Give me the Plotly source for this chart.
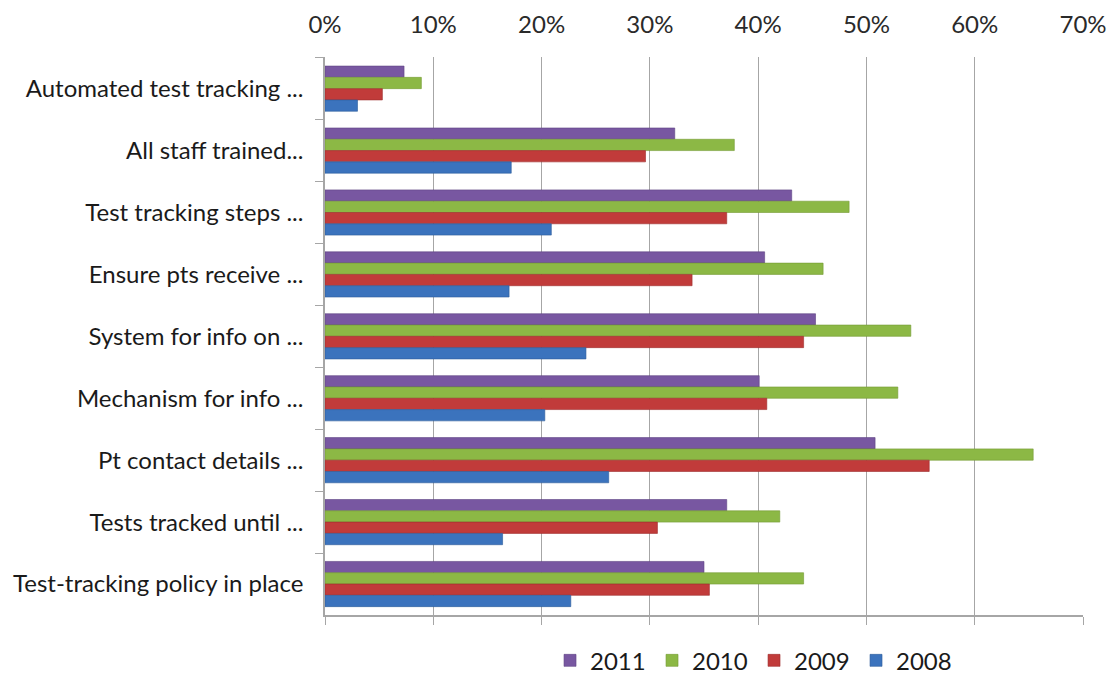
import plotly.graph_objects as go

categories = [
    "Automated test tracking ...",
    "All staff trained...",
    "Test tracking steps ...",
    "Ensure pts receive ...",
    "System for info on ...",
    "Mechanism for info ...",
    "Pt contact details ...",
    "Tests tracked until ...",
    "Test-tracking policy in place",
]
years = ["2011", "2010", "2009", "2008"]
v2011 = [7.3, 32.3, 43.1, 40.6, 45.3, 40.1, 50.8, 37.1, 35.0]
v2010 = [8.9, 37.8, 48.4, 46.0, 54.1, 52.9, 65.4, 42.0, 44.2]
v2009 = [5.3, 29.6, 37.1, 33.9, 44.2, 40.8, 55.8, 30.7, 35.5]
v2008 = [3.0, 17.2, 20.9, 17.0, 24.1, 20.3, 26.2, 16.4, 22.7]
series = [v2011, v2010, v2009, v2008]
colors = ["#7857A1", "#8CB845", "#C13B3A", "#3B73BD"]
edge = ["#5E4383", "#739A33", "#9E2E2D", "#2E5C9A"]
xticks = [0, 10, 20, 30, 40, 50, 60, 70]

FONT = "Lato"
FS = 24

fig = go.Figure()
for name, vals, c, e in zip(years, series, colors, edge):
    fig.add_trace(go.Bar(
        name=name, y=categories, x=vals, orientation="h",
        marker=dict(color=c, line=dict(color=e, width=0.6)),
    ))

# helper trace for bottom axis line with ticks
fig.add_trace(go.Scatter(x=[0], y=[categories[0]], xaxis="x2", mode="markers",
                         marker=dict(opacity=0), showlegend=False, hoverinfo="skip"))

fig.update_layout(
    width=1117, height=677,
    margin=dict(l=325, r=34, t=57, b=62, autoexpand=False),
    paper_bgcolor="white", plot_bgcolor="white",
    barmode="group", bargap=0.27, bargroupgap=0,
    font=dict(family=FONT, size=FS, color="#1A1A1A"),
    xaxis=dict(
        side="top", range=[0, 70], tickvals=xticks,
        ticktext=[f"{t}%" for t in xticks],
        showgrid=True, gridcolor="#A6A6A6", gridwidth=1,
        zeroline=False, showline=False, ticks="",
        ticklabelstandoff=18,
        tickfont=dict(family=FONT, size=FS, color="#2A2A2A"),
    ),
    xaxis2=dict(
        overlaying="x", side="bottom", range=[0, 70], tickvals=xticks,
        showticklabels=False, showgrid=False, zeroline=False,
        showline=True, linecolor="#A6A6A6", linewidth=1.5,
        ticks="outside", ticklen=8, tickcolor="#A6A6A6", anchor="y",
    ),
    yaxis=dict(
        autorange="reversed", showgrid=False, zeroline=False,
        showline=True, linecolor="#A6A6A6", linewidth=1.5,
        ticks="outside", ticklen=8, tickcolor="#A6A6A6", tickson="boundaries",
        ticklabelstandoff=15,
        tickfont=dict(family=FONT, size=FS, color="#1A1A1A"),
    ),
    legend=dict(
        orientation="h", x=0.566, xanchor="center", y=-0.082, yanchor="middle",
        font=dict(family=FONT, size=FS, color="#1A1A1A"),
        entrywidth=57, entrywidthmode="pixels",
    ),
)

fig.write_html("out.html")
